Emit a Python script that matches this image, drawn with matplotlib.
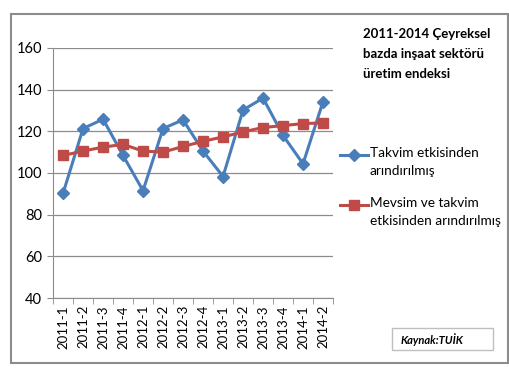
import matplotlib
matplotlib.use("Agg")
import matplotlib.pyplot as plt
from matplotlib.patches import Rectangle

# quarters
ceyrek = ["2011-1", "2011-2", "2011-3", "2011-4",
          "2012-1", "2012-2", "2012-3", "2012-4",
          "2013-1", "2013-2", "2013-3", "2013-4",
          "2014-1", "2014-2"]

# takvim etkisinden arindirilmis
takvim = [90.2, 121.3, 125.8, 108.4, 91.5, 121.3, 125.5, 110.5,
          98.3, 130.2, 135.9, 118.0, 104.4, 134.2]

# mevsim ve takvim etkisinden arindirilmis
mevsim = [108.4, 110.5, 112.4, 113.7, 110.5, 110.0, 112.7, 115.2,
          117.3, 119.7, 121.8, 122.7, 123.7, 124.0]

y_ticks = [40, 60, 80, 100, 120, 140, 160]

seriler = [
    (takvim, "Takvim etkisinden\narındırılmış", "#4a7ebb", "D", 6),
    (mevsim, "Mevsim ve takvim\netkisinden arındırılmış", "#be4b48", "s", 7),
]

plt.rcParams['font.family'] = ['Lato', 'DejaVu Sans']

fig = plt.figure(figsize=(5.1, 3.74), dpi=100)
fig.patch.set_facecolor("white")

# outer frame
fig.patches.append(Rectangle((0.022, 0.029), 0.974, 0.934, transform=fig.transFigure,
                             fill=False, edgecolor="#8c8c8c", linewidth=1.5))

ax = fig.add_axes([0.104, 0.203, 0.549, 0.669])

x = list(range(len(ceyrek)))
# legend drawn by hand so the key sits on the first text line (like Excel)
leg_y = [0.572, 0.372]
for (vals, lab, col, mk, ms), ly in zip(seriler, leg_y):
    ax.plot(x, vals, color=col, lw=2.2, marker=mk, markersize=ms)
    ax.plot([1.025, 1.075, 1.125], [ly, ly, ly], color=col, lw=2.2, marker=mk,
            markersize=ms, markevery=[1], transform=ax.transAxes, clip_on=False)
    ax.text(1.132, ly + 0.03, lab, transform=ax.transAxes, fontsize=9.8,
            va="top", ha="left", linespacing=1.6)

ax.set_ylim(40, 160)
ax.set_yticks(y_ticks)
ax.set_xlim(-0.5, len(ceyrek) - 0.5)
ax.set_xticks(x)
ax.set_xticklabels(ceyrek, rotation=90, fontsize=9.5)
ax.set_xticks([i - 0.5 for i in range(len(ceyrek) + 1)], minor=True)
ax.tick_params(axis="x", which="major", length=0, pad=5)
ax.tick_params(axis="x", which="minor", length=4, color="#8c8c8c")
ax.tick_params(axis="y", labelsize=10.5, length=4, color="#8c8c8c", pad=4)

ax.grid(axis="y", color="#8c8c8c", lw=0.9)
ax.set_axisbelow(True)
for s in ["top", "right"]:
    ax.spines[s].set_visible(False)
ax.spines["left"].set_color("#8c8c8c")
ax.spines["bottom"].set_color("#8c8c8c")

fig.text(0.712, 0.925, "2011-2014 Çeyreksel\nbazda inşaat sektörü\nüretim endeksi",
         fontsize=9.5, fontweight="bold", va="top", ha="left", linespacing=1.8)

fig.patches.append(Rectangle((0.769, 0.064), 0.198, 0.059, transform=fig.transFigure,
                             fill=False, edgecolor="#bfbfbf", linewidth=1))
fig.text(0.785, 0.093, "Kaynak:TUİK", fontsize=8, fontweight="bold",
         style="italic", va="center", ha="left")

fig.savefig("out.png", dpi=100)
